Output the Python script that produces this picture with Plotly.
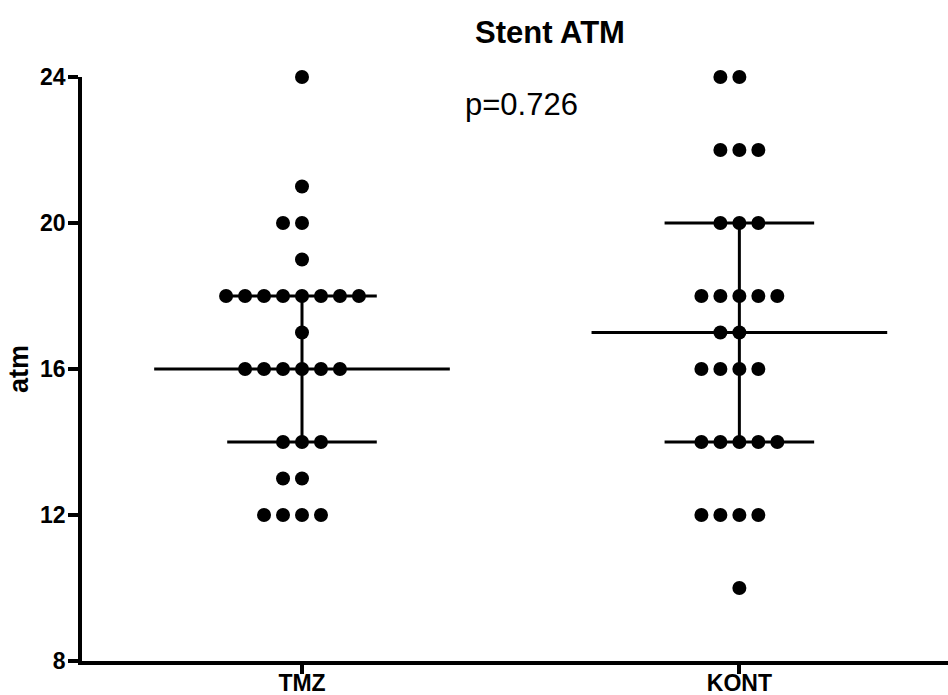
import numpy as np
import plotly.graph_objects as go
from collections import Counter

categories = ["TMZ", "KONT"]
tmz_values = [24, 21, 20, 20, 19,
              18, 18, 18, 18, 18, 18, 18, 18,
              17,
              16, 16, 16, 16, 16, 16,
              14, 14, 14,
              13, 13,
              12, 12, 12, 12]
kont_values = [24, 24,
               22, 22, 22,
               20, 20, 20,
               18, 18, 18, 18, 18,
               17, 17,
               16, 16, 16, 16,
               14, 14, 14, 14, 14,
               12, 12, 12, 12,
               10]
y_ticks = [8, 12, 16, 20, 24]
title_text = "Stent ATM"
p_text = "p=0.726"
y_label = "atm"

groups = [tmz_values, kont_values]

FONT = "Arial, Liberation Sans, Helvetica, sans-serif"
DOT_STEP = 0.0434      # horizontal spacing between stacked dots (x units)
MED_HALF = 0.338       # half-width of median line
QRT_HALF = 0.171       # half-width of quartile lines

W, H = 948, 695
L, T, B = 82, 77, 34
PW, PH = W - L, H - T - B

fig = go.Figure()

for gi, vals in enumerate(groups):
    counts = Counter(vals)
    xs, ys = [], []
    for v, n in sorted(counts.items()):
        start = -(n // 2)
        for k in range(n):
            xs.append(gi + (start + k) * DOT_STEP)
            ys.append(v)
    fig.add_trace(go.Scatter(
        x=xs, y=ys, mode="markers",
        marker=dict(size=14, color="black", line=dict(width=0)),
        cliponaxis=False, showlegend=False, hoverinfo="y"))

    arr = np.array(vals, dtype=float)
    q1, med, q3 = np.percentile(arr, [25, 50, 75])
    line = dict(color="black", width=3)
    fig.add_trace(go.Scatter(x=[gi - MED_HALF, gi + MED_HALF], y=[med, med],
                             mode="lines", line=line, cliponaxis=False,
                             showlegend=False, hoverinfo="skip"))
    for q in (q1, q3):
        fig.add_trace(go.Scatter(x=[gi - QRT_HALF, gi + QRT_HALF], y=[q, q],
                                 mode="lines", line=line, cliponaxis=False,
                                 showlegend=False, hoverinfo="skip"))
    fig.add_trace(go.Scatter(x=[gi, gi], y=[q1, q3], mode="lines", line=line,
                             cliponaxis=False, showlegend=False,
                             hoverinfo="skip"))

fig.update_layout(
    width=W, height=H,
    margin=dict(l=L, r=0, t=T, b=B),
    paper_bgcolor="white", plot_bgcolor="white",
    font=dict(family=FONT, color="black"),
    title=dict(text="<b>" + title_text + "</b>", xref="container",
               x=550 / W, xanchor="center", yref="container",
               y=1 - 32 / H, yanchor="middle",
               font=dict(size=31, family=FONT, color="black")),
    xaxis=dict(range=[-0.503, 1.477], tickmode="array", automargin=False,
               tickvals=list(range(len(categories))),
               ticktext=["<b>" + c + "</b>" for c in categories],
               showline=True, linecolor="black", linewidth=3.5,
               ticks="outside", ticklen=9, tickwidth=3.5, tickcolor="black",
               ticklabelstandoff=-10,
               showgrid=False, zeroline=False,
               tickfont=dict(size=23, family=FONT, color="black")),
    yaxis=dict(range=[8, 24], tickmode="array", tickvals=y_ticks,
               automargin=False,
               ticktext=["<b>%d</b>" % t for t in y_ticks],
               showline=True, linecolor="black", linewidth=3.5,
               ticks="outside", ticklen=10, tickwidth=3.5, tickcolor="black",
               ticklabelstandoff=-2,
               showgrid=False, zeroline=False,
               tickfont=dict(size=23, family=FONT, color="black")),
    annotations=[
        dict(text=p_text, xref="paper", yref="paper",
             x=(521 - L) / PW, y=(H - B - 104) / PH,
             xanchor="center", yanchor="middle", showarrow=False,
             font=dict(size=31, family=FONT, color="black")),
        dict(text="<b>" + y_label + "</b>", xref="paper", yref="paper",
             x=(19 - L) / PW, y=0.5, textangle=-90,
             xanchor="center", yanchor="middle", showarrow=False,
             font=dict(size=27, family=FONT, color="black")),
    ],
)

fig.write_html(
    "out.html",
    config={"displayModeBar": False},
    post_script="document.body.style.margin='0';"
                "document.body.style.overflow='hidden';",
)
